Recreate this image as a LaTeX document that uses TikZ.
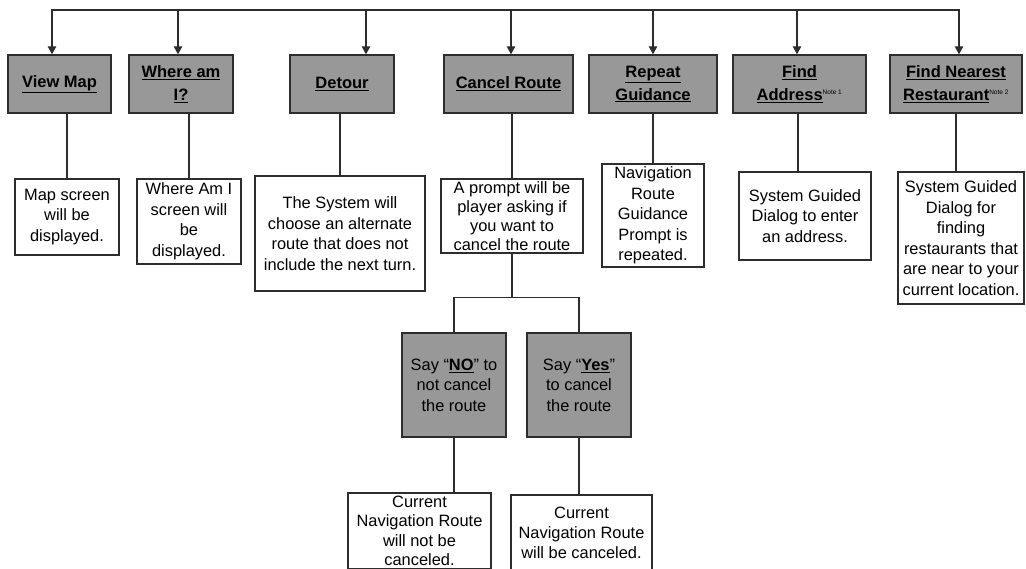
\documentclass[tikz,border=0pt]{standalone}
\usepackage{fontspec}
\setmainfont{Liberation Sans}
\usetikzlibrary{arrows.meta,positioning,calc}
\definecolor{NavInk}{RGB}{45,45,45}
\definecolor{NavGray}{RGB}{152,152,152}
\newcommand{\navul}[1]{\underline{#1}}
\newcommand{\navnote}[1]{\textsuperscript{\fontsize{6.5}{6.5}\selectfont\mdseries Note #1}}
\tikzset{
  nav/title/.style={
    draw=NavInk,
    line width=1.4pt,
    fill=NavGray,
    align=center,
    text=black,
    inner sep=1pt,
    minimum height=58pt,
    font=\fontsize{16.5}{23}\selectfont\bfseries
  },
  nav/desc/.style={
    draw=NavInk,
    line width=1.2pt,
    fill=white,
    align=center,
    text=black,
    inner sep=1pt,
    font=\fontsize{16.4}{20.5}\selectfont
  },
  nav/choice/.style={nav/desc, fill=NavGray, line width=1.4pt},
  nav/arrow/.style={-{Triangle[length=8pt,width=8.5pt]}, line width=1.2pt, draw=NavInk},
  nav/line/.style={line width=1.2pt, draw=NavInk}
}

\begin{document}
\begin{tikzpicture}[x=1pt,y=-1pt]
  \clip (0,0) rectangle (1026,568);
  % voice commands
  \node[nav/title, minimum width=103pt] (viewmap) at (59.5,84) {\navul{View Map}};
  \node[nav/title, minimum width=104pt] (whereami) at (181,84) {\navul{Where am}\\\navul{I?}};
  \node[nav/title, minimum width=104pt] (detour) at (342,84) {\navul{Detour}};
  \node[nav/title, minimum width=129pt] (cancel) at (508.5,84) {\navul{Cancel Route}};
  \node[nav/title, minimum width=128pt] (repeat) at (653,84) {\navul{Repeat}\\\navul{Guidance}};
  \node[nav/title, minimum width=133pt] (findaddr) at (799.5,84) {\navul{Find}\\\navul{Address}\navnote{1}};
  \node[nav/title, minimum width=132pt] (findrest) at (956,84) {\navul{Find Nearest}\\\navul{Restaurant}\navnote{2}};

  % what the system does
  \node[nav/desc, minimum width=104pt, minimum height=76pt] (mapdesc) at (67,217) {Map screen\\will be\\displayed.};
  \node[nav/desc, minimum width=104pt, minimum height=85pt] (wheredesc) at (189,221.5) {Where Am I\\screen will\\be\\displayed.};
  \node[nav/desc, minimum width=170pt, minimum height=115pt] (detourdesc) at (340,233.5) {The System will\\choose an alternate\\route that does not\\include the next turn.};
  \node[nav/desc, minimum width=142pt, minimum height=74pt, font=\fontsize{16.4}{19}\selectfont] (canceldesc) at (512,216) {A prompt will be\\player asking if\\you want to\\cancel the route};
  \node[nav/desc, minimum width=102pt, minimum height=103pt] (repeatdesc) at (653,215.5) {Navigation\\Route\\Guidance\\Prompt is\\repeated.};
  \node[nav/desc, minimum width=132pt, minimum height=88pt] (addrdesc) at (805,216) {System Guided\\Dialog to enter\\an address.};
  \node[nav/desc, minimum width=126pt, minimum height=132pt] (restdesc) at (961,238) {System Guided\\Dialog for\\finding\\restaurants that\\are near to your\\current location.};

  % cancel route answers
  \node[nav/choice, minimum width=104pt, minimum height=104pt] (sayno) at (454,385) {Say ``\textbf{\navul{NO}}'' to\\not cancel\\the route};
  \node[nav/choice, minimum width=104pt, minimum height=104pt] (sayyes) at (579,385) {Say ``\textbf{\navul{Yes}}''\\to cancel\\the route};
  \node[nav/desc, minimum width=143pt, minimum height=76pt, font=\fontsize{16.4}{19.5}\selectfont] (keepdesc) at (419.5,531) {Current\\Navigation Route\\will not be\\canceled.};
  \node[nav/desc, minimum width=141pt, minimum height=76pt, font=\fontsize{16.4}{20}\selectfont] (dropdesc) at (581.5,533) {Current\\Navigation Route\\will be canceled.};

  % top bus with arrows
  \coordinate (bus) at (0,10);
  \foreach \opt/\dx in {viewmap/-7.5, whereami/-3, detour/24, cancel/2.5, repeat/0, findaddr/-2.5, findrest/3}{
    \coordinate (\opt-tip) at ([xshift=\dx pt]\opt.north);
    \draw[nav/arrow] (\opt-tip |- bus) -- (\opt-tip);
  }
  \draw[nav/line, line cap=rect] (viewmap-tip |- bus) -- (findrest-tip |- bus);

  % command to result
  \foreach \opt/\res in {viewmap/mapdesc, whereami/wheredesc, detour/detourdesc, cancel/canceldesc, repeat/repeatdesc}
    \draw[nav/line] (\res.north) -- (\res.north |- \opt.south);
  \draw[nav/line] ([xshift=-1.5pt]findaddr.south) -- ([xshift=-1.5pt]findaddr.south |- addrdesc.north);
  \draw[nav/line] (findrest.south) -- (findrest.south |- restdesc.north);

  % yes / no branch
  \draw[nav/line] (canceldesc.south) -- ++(0,44) coordinate (split);
  \draw[nav/line] (sayno.north) |- (split) -| (sayyes.north);
  \draw[nav/line] (sayno.south) -- (sayno.south |- keepdesc.north);
  \draw[nav/line] (sayyes.south) -- (sayyes.south |- dropdesc.north);
\end{tikzpicture}
\end{document}
